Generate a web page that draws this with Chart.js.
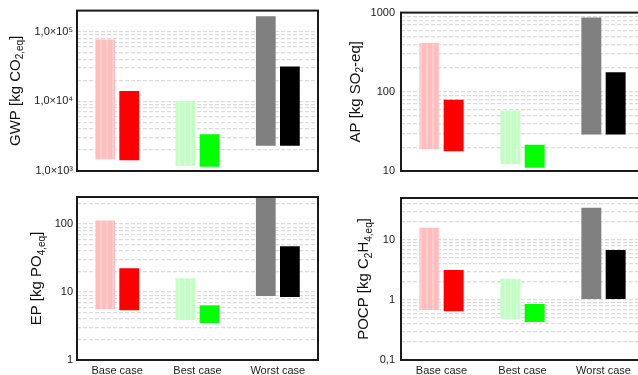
<!DOCTYPE html>
<html>
<head>
<meta charset="utf-8">
<script src="https://cdn.jsdelivr.net/npm/chart.js@4/dist/chart.umd.min.js"></script>
<style>
  html, body { margin:0; padding:0; background:#fff; width:638px; height:375px; overflow:hidden; }
  .p { position:absolute; }
</style>
</head>
<body>
<div class="p" style="left:0;top:0;width:320px;height:185px"><canvas id="c1" width="320" height="185"></canvas></div>
<div class="p" style="left:320px;top:0;width:330px;height:185px"><canvas id="c2" width="330" height="185"></canvas></div>
<div class="p" style="left:0;top:185px;width:320px;height:190px"><canvas id="c3" width="320" height="190"></canvas></div>
<div class="p" style="left:320px;top:185px;width:330px;height:190px"><canvas id="c4" width="330" height="190"></canvas></div>
<script>
// ---- data ----
const categories = ["Base case", "Best case", "Worst case"];

// GWP [kg CO2,eq]  : [low, high]
const gwpRange = [[1480, 77000], [1190, 10000], [2300, 166000]];
const gwpSolid = [[1430, 14000], [1150, 3380], [2300, 31600]];
// AP [kg SO2-eq]
const apRange = [[18.8, 414], [12.3, 58.2], [28.8, 867]];
const apSolid = [[17.8, 79.6], [11.0, 21.5], [28.8, 176]];
// EP [kg PO4,eq]
const epRange = [[5.57, 113], [3.87, 15.9], [8.73, 250]];
const epSolid = [[5.38, 22.3], [3.5, 6.37], [8.44, 47]];
// POCP [kg C2H4,eq]
const pocpRange = [[0.68, 15.9], [0.48, 2.25], [1.04, 34.5]];
const pocpSolid = [[0.65, 3.16], [0.43, 0.857], [1.04, 6.8]];

const gwpTickLabels = {1000: "1,0×10³", 10000: "1,0×10⁴", 100000: "1,0×10⁵"};
const apTickLabels = {10: "10", 100: "100", 1000: "1000"};
const epTickLabels = {1: "1", 10: "10", 100: "100"};
const pocpTickLabels = {0.1: "0,1", 1: "1", 10: "10"};

// ---- styling ----
function stripe(base, light) {
  const c = document.createElement('canvas');
  c.width = 6; c.height = 1;
  const x = c.getContext('2d');
  x.fillStyle = base; x.fillRect(0, 0, 6, 1);
  x.fillStyle = light; x.fillRect(4, 0, 2, 1);
  return x.createPattern(c, 'repeat');
}
const pinkPat = stripe('#FFBDBD', '#FFCCCC');
const greenPat = stripe('#C2FFC2', '#D4FFD4');
const rangeColors = [pinkPat, greenPat, '#808080'];
const solidColors = ['#FF0000', '#00FF00', '#000000'];

function minorTicks(min, max) {
  const out = [];
  let e = Math.floor(Math.log10(min));
  while (Math.pow(10, e) <= max * 1.0001) {
    for (let m = 1; m <= 9; m++) {
      const v = parseFloat((m * Math.pow(10, e)).toPrecision(6));
      if (v >= min * 0.9999 && v <= max * 1.0001) out.push(v);
    }
    e++;
  }
  return out;
}

const titlePlugin = {
  id: 'titleFrame',
  afterDraw(chart, args, opts) {
    const ctx = chart.ctx, a = chart.chartArea;
    // frame
    ctx.save();
    ctx.strokeStyle = '#1a1a1a';
    ctx.lineWidth = 2;
    ctx.strokeRect(a.left, a.top, a.right - a.left, a.bottom - a.top);
    ctx.restore();
    // rotated title with subscripts
    const segs = opts.segs;
    const big = '15px "Liberation Sans", Arial, sans-serif';
    const small = '10px "Liberation Sans", Arial, sans-serif';
    ctx.save();
    let total = 0;
    segs.forEach(s => { ctx.font = s.sub ? small : big; total += ctx.measureText(s.t).width; });
    ctx.translate(opts.x, (a.top + a.bottom) / 2);
    ctx.rotate(-Math.PI / 2);
    ctx.fillStyle = '#111';
    ctx.textBaseline = 'alphabetic';
    ctx.textAlign = 'left';
    let pos = -total / 2;
    segs.forEach(s => {
      ctx.font = s.sub ? small : big;
      ctx.fillText(s.t, pos, s.sub ? 3.5 : 0);
      pos += ctx.measureText(s.t).width;
    });
    ctx.restore();
  }
};

function makeChart(id, o) {
  const ticksList = minorTicks(o.min, o.max);
  new Chart(document.getElementById(id), {
    type: 'bar',
    data: {
      labels: categories,
      datasets: [
        { data: o.range, backgroundColor: rangeColors, borderWidth: 0, barPercentage: 0.82, categoryPercentage: 0.6 },
        { data: o.solid, backgroundColor: solidColors, borderWidth: 0, barPercentage: 0.82, categoryPercentage: 0.6 }
      ]
    },
    options: {
      responsive: false,
      animation: false,
      devicePixelRatio: 1,
      layout: { padding: { top: o.pt, right: o.pr, bottom: o.pb, left: 0 } },
      plugins: { legend: { display: false }, tooltip: { enabled: false }, titleFrame: { segs: o.segs, x: o.tx } },
      scales: {
        x: {
          display: o.showX,
          grid: { display: false, drawTicks: false },
          border: { display: false },
          ticks: { color: '#222', font: { size: 11, family: '"Liberation Sans", Arial, sans-serif' }, padding: 4, maxRotation: 0 },
          afterFit: s => { s.height = o.showX ? 15 : 0; }
        },
        y: {
          type: 'logarithmic',
          min: o.min, max: o.max,
          afterBuildTicks: s => { s.ticks = ticksList.map(v => ({ value: v })); },
          afterFit: s => { s.width = o.yw; },
          grid: { color: '#dcdcdc', lineWidth: 1.2, drawTicks: false },
          border: { display: false, dash: [4, 2] },
          ticks: {
            autoSkip: false,
            padding: o.tp,
            color: '#222',
            font: { size: 11, family: '"Liberation Sans", Arial, sans-serif' },
            callback: v => (o.labels[v] !== undefined ? o.labels[v] : '')
          }
        }
      }
    },
    plugins: [titlePlugin]
  });
}

makeChart('c1', { range: gwpRange, solid: gwpSolid, min: 1000, max: 200000, labels: gwpTickLabels,
  pt: 9, pr: 2, pb: 14, yw: 77, tp: 4, showX: false, tx: 19.5,
  segs: [{t:'GWP [kg CO'}, {t:'2,eq', sub:true}, {t:']'}] });
makeChart('c2', { range: apRange, solid: apSolid, min: 10, max: 1000, labels: apTickLabels,
  pt: 9, pr: 6, pb: 14, yw: 81, tp: 6, showX: false, tx: 39.7,
  segs: [{t:'AP [kg SO'}, {t:'2', sub:true}, {t:'-eq]'}] });
makeChart('c3', { range: epRange, solid: epSolid, min: 1, max: 250, labels: epTickLabels,
  pt: 12, pr: 2, pb: 0, yw: 77, tp: 4, showX: true, tx: 41,
  segs: [{t:'EP [kg PO'}, {t:'4,eq', sub:true}, {t:']'}] });
makeChart('c4', { range: pocpRange, solid: pocpSolid, min: 0.1, max: 50, labels: pocpTickLabels,
  pt: 13, pr: 6, pb: 0, yw: 81, tp: 6, showX: true, tx: 48,
  segs: [{t:'POCP [kg C'}, {t:'2', sub:true}, {t:'H'}, {t:'4,eq', sub:true}, {t:']'}] });
</script>
</body>
</html>
